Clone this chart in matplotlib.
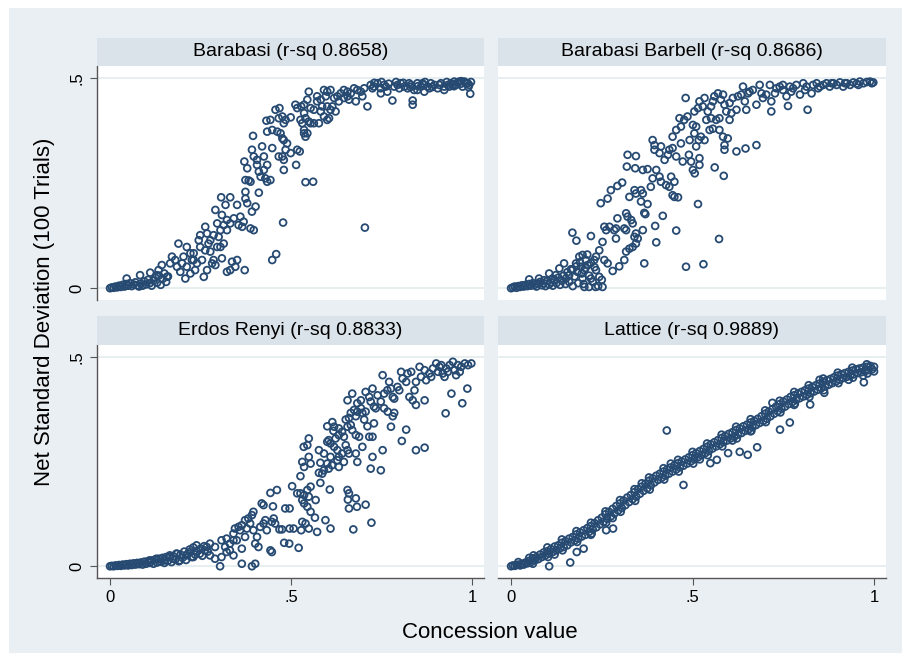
import numpy as np
import matplotlib
matplotlib.use("Agg")
import matplotlib.pyplot as plt
from matplotlib.patches import Rectangle

plt.rcParams['font.family'] = ['Liberation Sans', 'DejaVu Sans']

titles = ["Barabasi (r-sq 0.8658)", "Barabasi Barbell (r-sq 0.8686)",
          "Erdos Renyi (r-sq 0.8833)", "Lattice (r-sq 0.9889)"]
x_ticks = [0, 0.5, 1]
x_ticklabels = ["0", ".5", "1"]
y_ticks = [0, 0.5]
y_ticklabels = ["0", ".5"]
x_label = "Concession value"
y_label = "Net Standard Deviation (100 Trials)"

barabasi = [
    (0.000, 0.000), (0.005, 0.002), (0.010, 0.001), (0.015, 0.004), (0.020, 0.002), (0.025, 0.006),
    (0.030, 0.003), (0.035, 0.008), (0.040, 0.004), (0.045, 0.010), (0.050, 0.006), (0.055, 0.012),
    (0.060, 0.005), (0.065, 0.009), (0.070, 0.014), (0.075, 0.007), (0.080, 0.004), (0.085, 0.011),
    (0.090, 0.006), (0.095, 0.016), (0.100, 0.009), (0.105, 0.020), (0.110, 0.012), (0.115, 0.006),
    (0.120, 0.018), (0.125, 0.025), (0.130, 0.013), (0.135, 0.030), (0.140, 0.008), (0.145, 0.022),
    (0.150, 0.035), (0.155, 0.015), (0.160, 0.028),
    (0.046, 0.023), (0.083, 0.031), (0.111, 0.037), (0.129, 0.031), (0.143, 0.055), (0.134, 0.043),
    (0.157, 0.027),
    (0.166, 0.059), (0.171, 0.075), (0.180, 0.067), (0.185, 0.051), (0.189, 0.106), (0.194, 0.039),
    (0.199, 0.059), (0.203, 0.075), (0.208, 0.023), (0.212, 0.051), (0.222, 0.035), (0.226, 0.067),
    (0.231, 0.083), (0.235, 0.043), (0.240, 0.059), (0.245, 0.114), (0.249, 0.126), (0.254, 0.067),
    (0.259, 0.027), (0.263, 0.146), (0.263, 0.090), (0.268, 0.043), (0.272, 0.106), (0.277, 0.087),
    (0.282, 0.059), (0.286, 0.067), (0.291, 0.055), (0.291, 0.186), (0.296, 0.154), (0.300, 0.122),
    (0.305, 0.098), (0.307, 0.216), (0.309, 0.174), (0.309, 0.071), (0.314, 0.106), (0.319, 0.198),
    (0.323, 0.138), (0.323, 0.039), (0.332, 0.216), (0.332, 0.043), (0.337, 0.063), (0.346, 0.051),
    (0.351, 0.067), (0.351, 0.198), (0.355, 0.150), (0.360, 0.170), (0.365, 0.146), (0.369, 0.158),
    (0.372, 0.043), (0.374, 0.229), (0.374, 0.213), (0.379, 0.202), (0.388, 0.142), (0.392, 0.182),
    (0.397, 0.138), (0.402, 0.194), (0.411, 0.227), (0.448, 0.067), (0.459, 0.081), (0.478, 0.156),
    (0.249, 0.098), (0.268, 0.130), (0.277, 0.114), (0.286, 0.126), (0.296, 0.098), (0.305, 0.138),
    (0.314, 0.150), (0.323, 0.162), (0.332, 0.154), (0.342, 0.166), (0.222, 0.083), (0.231, 0.067),
    (0.212, 0.098),
    (0.371, 0.301), (0.379, 0.285), (0.392, 0.329), (0.397, 0.313), (0.406, 0.305), (0.406, 0.293),
    (0.411, 0.277), (0.416, 0.265), (0.425, 0.281), (0.429, 0.261), (0.434, 0.253), (0.443, 0.257),
    (0.374, 0.257), (0.383, 0.256), (0.425, 0.313), (0.420, 0.337), (0.448, 0.333), (0.434, 0.293),
    (0.388, 0.253), (0.395, 0.362),
    (0.432, 0.398), (0.443, 0.400), (0.457, 0.424), (0.468, 0.428), (0.466, 0.404), (0.476, 0.408),
    (0.480, 0.392), (0.485, 0.400), (0.499, 0.406), (0.434, 0.372), (0.448, 0.376), (0.462, 0.372),
    (0.471, 0.368), (0.476, 0.356), (0.480, 0.352), (0.489, 0.344), (0.476, 0.313), (0.485, 0.329),
    (0.480, 0.305), (0.480, 0.281), (0.466, 0.313), (0.499, 0.321), (0.514, 0.293), (0.517, 0.329),
    (0.524, 0.325), (0.540, 0.252), (0.561, 0.253), (0.536, 0.368), (0.545, 0.368), (0.540, 0.360),
    (0.536, 0.376),
    (0.512, 0.436), (0.517, 0.428), (0.528, 0.432), (0.536, 0.436), (0.549, 0.467), (0.545, 0.448),
    (0.554, 0.428), (0.563, 0.424), (0.572, 0.444), (0.582, 0.448), (0.591, 0.471), (0.600, 0.467),
    (0.586, 0.432), (0.582, 0.420), (0.591, 0.408), (0.600, 0.400), (0.605, 0.404), (0.526, 0.400),
    (0.531, 0.392), (0.549, 0.396), (0.554, 0.392), (0.563, 0.392), (0.577, 0.392), (0.540, 0.404),
    (0.536, 0.416), (0.572, 0.456), (0.596, 0.456),
    (0.609, 0.471), (0.619, 0.452), (0.628, 0.456), (0.632, 0.444), (0.623, 0.420), (0.637, 0.463),
    (0.646, 0.471), (0.656, 0.467), (0.665, 0.463), (0.674, 0.475), (0.683, 0.471), (0.693, 0.467),
    (0.702, 0.475), (0.679, 0.444), (0.697, 0.456), (0.711, 0.432), (0.646, 0.452), (0.656, 0.456),
    (0.660, 0.448), (0.600, 0.432), (0.609, 0.424), (0.614, 0.432), (0.704, 0.144),
    (0.720, 0.483), (0.729, 0.479), (0.739, 0.487), (0.748, 0.475), (0.757, 0.483), (0.766, 0.467),
    (0.780, 0.446), (0.785, 0.479), (0.794, 0.483), (0.803, 0.487), (0.813, 0.479), (0.822, 0.475),
    (0.831, 0.483), (0.836, 0.446), (0.836, 0.436), (0.840, 0.471), (0.849, 0.487), (0.859, 0.479),
    (0.868, 0.483), (0.877, 0.479), (0.886, 0.487), (0.896, 0.483), (0.905, 0.475), (0.914, 0.487),
    (0.923, 0.479), (0.933, 0.483), (0.942, 0.487), (0.951, 0.491), (0.960, 0.489), (0.970, 0.486),
    (0.979, 0.491), (0.988, 0.487), (0.997, 0.490), (0.995, 0.462), (0.923, 0.471), (0.868, 0.467),
    (0.849, 0.471), (0.748, 0.463), (0.725, 0.475), (0.762, 0.479), (0.799, 0.475), (0.826, 0.487),
    (0.863, 0.487), (0.882, 0.475), (0.910, 0.483), (0.937, 0.479), (0.956, 0.483), (0.974, 0.479),
    (0.992, 0.483), (0.983, 0.487), (0.965, 0.491), (0.946, 0.483),
    (0.730, 0.488), (0.750, 0.490), (0.770, 0.486), (0.790, 0.490), (0.810, 0.488), (0.830, 0.478),
    (0.850, 0.480), (0.870, 0.490), (0.890, 0.478), (0.930, 0.490), (0.950, 0.480), (0.970, 0.492),
    (0.990, 0.478),
]

barbell = [
    (0.000, 0.000), (0.005, 0.002), (0.010, 0.004), (0.015, 0.001), (0.020, 0.005), (0.025, 0.003),
    (0.030, 0.007), (0.035, 0.004), (0.040, 0.008), (0.045, 0.005), (0.050, 0.010), (0.055, 0.006),
    (0.060, 0.012), (0.065, 0.008), (0.070, 0.004), (0.075, 0.011), (0.080, 0.015), (0.085, 0.007),
    (0.090, 0.012), (0.095, 0.005), (0.100, 0.018), (0.105, 0.009), (0.110, 0.014), (0.115, 0.006),
    (0.120, 0.020), (0.125, 0.012), (0.130, 0.025), (0.135, 0.008), (0.140, 0.018), (0.145, 0.030),
    (0.150, 0.010), (0.155, 0.038), (0.160, 0.015), (0.165, 0.045), (0.170, 0.005), (0.175, 0.028),
    (0.180, 0.052), (0.185, 0.012), (0.190, 0.062), (0.195, 0.035), (0.200, 0.010), (0.205, 0.048),
    (0.210, 0.080), (0.215, 0.030), (0.220, 0.060), (0.225, 0.015), (0.230, 0.050), (0.240, 0.005),
    (0.250, 0.020),
    (0.169, 0.132), (0.180, 0.113), (0.220, 0.124), (0.243, 0.090), (0.252, 0.110), (0.257, 0.146),
    (0.262, 0.138), (0.252, 0.003), (0.233, 0.003), (0.215, 0.003), (0.202, 0.003), (0.197, 0.023),
    (0.220, 0.023), (0.243, 0.027), (0.188, 0.075), (0.197, 0.079), (0.206, 0.067), (0.211, 0.055),
    (0.193, 0.051), (0.179, 0.059), (0.169, 0.043), (0.160, 0.031), (0.151, 0.023), (0.146, 0.059),
    (0.133, 0.047), (0.123, 0.031), (0.114, 0.023), (0.105, 0.035), (0.091, 0.019), (0.077, 0.023),
    (0.050, 0.021), (0.229, 0.067), (0.234, 0.043), (0.183, 0.039), (0.202, 0.043), (0.234, 0.075),
    (0.257, 0.067), (0.266, 0.059), (0.280, 0.041), (0.298, 0.052), (0.312, 0.067), (0.317, 0.087),
    (0.326, 0.094), (0.335, 0.098), (0.344, 0.106), (0.349, 0.118), (0.367, 0.059), (0.400, 0.109),
    (0.397, 0.148), (0.363, 0.138), (0.344, 0.130), (0.340, 0.122), (0.317, 0.138), (0.312, 0.142),
    (0.289, 0.142), (0.284, 0.138), (0.289, 0.118), (0.293, 0.166), (0.271, 0.146), (0.247, 0.202),
    (0.266, 0.213), (0.275, 0.233), (0.293, 0.243), (0.306, 0.251), (0.317, 0.178), (0.321, 0.170),
    (0.331, 0.162), (0.335, 0.154), (0.326, 0.217), (0.340, 0.233), (0.344, 0.225), (0.358, 0.233),
    (0.363, 0.225), (0.358, 0.206), (0.376, 0.200), (0.367, 0.179), (0.370, 0.176), (0.418, 0.172),
    (0.455, 0.137), (0.482, 0.051), (0.530, 0.057), (0.573, 0.117), (0.515, 0.200), (0.321, 0.317),
    (0.344, 0.314), (0.319, 0.289), (0.342, 0.285), (0.363, 0.281), (0.376, 0.283), (0.390, 0.261),
    (0.400, 0.281), (0.409, 0.265), (0.413, 0.253), (0.385, 0.241), (0.427, 0.245), (0.436, 0.241),
    (0.450, 0.253), (0.445, 0.221), (0.450, 0.217), (0.460, 0.216), (0.441, 0.265), (0.423, 0.305),
    (0.436, 0.329), (0.432, 0.317), (0.409, 0.321), (0.395, 0.329), (0.390, 0.352), (0.395, 0.340),
    (0.413, 0.337), (0.445, 0.333), (0.455, 0.313), (0.468, 0.344), (0.473, 0.301), (0.490, 0.317),
    (0.496, 0.301), (0.501, 0.281), (0.506, 0.273), (0.519, 0.293), (0.519, 0.309), (0.510, 0.337),
    (0.517, 0.352), (0.523, 0.360), (0.533, 0.352), (0.445, 0.360), (0.455, 0.376), (0.468, 0.384),
    (0.477, 0.400), (0.464, 0.404), (0.486, 0.408), (0.501, 0.388), (0.510, 0.384), (0.505, 0.368),
    (0.492, 0.352), (0.481, 0.452), (0.505, 0.420), (0.515, 0.428), (0.519, 0.444), (0.528, 0.432),
    (0.533, 0.452), (0.542, 0.420), (0.551, 0.432), (0.556, 0.444), (0.560, 0.456), (0.570, 0.463),
    (0.578, 0.448), (0.584, 0.460), (0.588, 0.436), (0.593, 0.420), (0.574, 0.404), (0.565, 0.400),
    (0.551, 0.404), (0.538, 0.400), (0.547, 0.376), (0.556, 0.379), (0.574, 0.376), (0.584, 0.360),
    (0.597, 0.356), (0.588, 0.340), (0.588, 0.329), (0.561, 0.287), (0.586, 0.267), (0.621, 0.325),
    (0.646, 0.332), (0.676, 0.340), (0.602, 0.400), (0.607, 0.416), (0.602, 0.440), (0.611, 0.452),
    (0.621, 0.424), (0.625, 0.456), (0.634, 0.460), (0.639, 0.479), (0.644, 0.444), (0.648, 0.424),
    (0.653, 0.463), (0.657, 0.467), (0.666, 0.471), (0.676, 0.436), (0.685, 0.483), (0.690, 0.463),
    (0.694, 0.452), (0.703, 0.460), (0.713, 0.483), (0.717, 0.444), (0.717, 0.420), (0.727, 0.463),
    (0.731, 0.475), (0.740, 0.479), (0.749, 0.471), (0.759, 0.456), (0.763, 0.433), (0.768, 0.479),
    (0.777, 0.475), (0.786, 0.483), (0.796, 0.460), (0.805, 0.487), (0.814, 0.479), (0.817, 0.424),
    (0.828, 0.463), (0.832, 0.483), (0.842, 0.487), (0.851, 0.479), (0.860, 0.483), (0.869, 0.487),
    (0.878, 0.479), (0.888, 0.487), (0.897, 0.483), (0.906, 0.489), (0.915, 0.479), (0.925, 0.487),
    (0.934, 0.483), (0.943, 0.489), (0.952, 0.486), (0.961, 0.491), (0.971, 0.487), (0.980, 0.490),
    (0.989, 0.491), (0.998, 0.489), (0.749, 0.483), (0.772, 0.467), (0.810, 0.471), (0.846, 0.475),
    (0.883, 0.487), (0.920, 0.487), (0.957, 0.483), (0.994, 0.487),
]

erdos = [
    (0.000, 0.000), (0.005, 0.001), (0.010, 0.000), (0.015, 0.002), (0.020, 0.001), (0.025, 0.003),
    (0.030, 0.001), (0.035, 0.004), (0.040, 0.002), (0.045, 0.005), (0.050, 0.002), (0.055, 0.006),
    (0.060, 0.003), (0.065, 0.007), (0.070, 0.004), (0.075, 0.008), (0.080, 0.005), (0.085, 0.009),
    (0.090, 0.004), (0.095, 0.011), (0.100, 0.006), (0.105, 0.012), (0.110, 0.008), (0.115, 0.014),
    (0.120, 0.006), (0.125, 0.016), (0.130, 0.009), (0.135, 0.018), (0.140, 0.011), (0.145, 0.020),
    (0.150, 0.008), (0.155, 0.022), (0.160, 0.013), (0.165, 0.026), (0.170, 0.010), (0.175, 0.024),
    (0.180, 0.016), (0.185, 0.030), (0.190, 0.012), (0.195, 0.028), (0.200, 0.020), (0.205, 0.035),
    (0.210, 0.015), (0.215, 0.030), (0.220, 0.040), (0.225, 0.022), (0.230, 0.045), (0.235, 0.028),
    (0.240, 0.036), (0.250, 0.042), (0.255, 0.025), (0.260, 0.048), (0.270, 0.035),
    (0.304, 0.000), (0.364, 0.006), (0.392, 0.000), (0.401, 0.006), (0.341, 0.026), (0.322, 0.034),
    (0.308, 0.022), (0.290, 0.018), (0.276, 0.026), (0.267, 0.046), (0.262, 0.038), (0.248, 0.030),
    (0.239, 0.050), (0.230, 0.022), (0.220, 0.034), (0.211, 0.026), (0.193, 0.014), (0.183, 0.030),
    (0.174, 0.018), (0.165, 0.022), (0.151, 0.014), (0.128, 0.018), (0.109, 0.014), (0.276, 0.054),
    (0.290, 0.046), (0.308, 0.062), (0.318, 0.046), (0.322, 0.066), (0.331, 0.054), (0.341, 0.078),
    (0.350, 0.062), (0.359, 0.086), (0.364, 0.042), (0.373, 0.070), (0.378, 0.090), (0.387, 0.102),
    (0.396, 0.086), (0.401, 0.054), (0.406, 0.070), (0.410, 0.046), (0.415, 0.094), (0.424, 0.102),
    (0.429, 0.110), (0.433, 0.086), (0.443, 0.038), (0.447, 0.034), (0.447, 0.106), (0.452, 0.114),
    (0.456, 0.102), (0.424, 0.146), (0.419, 0.150), (0.396, 0.130), (0.392, 0.122), (0.382, 0.114),
    (0.373, 0.110), (0.364, 0.098), (0.355, 0.094), (0.345, 0.090), (0.341, 0.062), (0.331, 0.038),
    (0.443, 0.175), (0.461, 0.182), (0.450, 0.143), (0.468, 0.088), (0.481, 0.056), (0.495, 0.054),
    (0.521, 0.044), (0.496, 0.090), (0.507, 0.090), (0.528, 0.086), (0.540, 0.102), (0.549, 0.090),
    (0.572, 0.082), (0.609, 0.090), (0.595, 0.110), (0.566, 0.116), (0.531, 0.106), (0.554, 0.130),
    (0.545, 0.142), (0.536, 0.150), (0.531, 0.158), (0.517, 0.174), (0.526, 0.174), (0.536, 0.170),
    (0.549, 0.166), (0.545, 0.182), (0.554, 0.190), (0.568, 0.158), (0.503, 0.191), (0.484, 0.138),
    (0.496, 0.138), (0.475, 0.088), (0.581, 0.199), (0.607, 0.183), (0.526, 0.215), (0.536, 0.237),
    (0.531, 0.249), (0.549, 0.261), (0.554, 0.245), (0.577, 0.223), (0.586, 0.221), (0.591, 0.229),
    (0.604, 0.233), (0.600, 0.245), (0.609, 0.261), (0.613, 0.241), (0.628, 0.253), (0.581, 0.247),
    (0.591, 0.269), (0.535, 0.285), (0.549, 0.305), (0.545, 0.289), (0.577, 0.277), (0.600, 0.297),
    (0.604, 0.301), (0.609, 0.293), (0.619, 0.285), (0.623, 0.305), (0.632, 0.313), (0.628, 0.277),
    (0.632, 0.261), (0.641, 0.269), (0.651, 0.289), (0.656, 0.277), (0.660, 0.269), (0.646, 0.249),
    (0.632, 0.237), (0.656, 0.182), (0.660, 0.174), (0.657, 0.159), (0.679, 0.162), (0.660, 0.138),
    (0.682, 0.142), (0.706, 0.147), (0.722, 0.104), (0.672, 0.088), (0.683, 0.249), (0.679, 0.269),
    (0.697, 0.285), (0.688, 0.309), (0.679, 0.313), (0.669, 0.325), (0.665, 0.337), (0.656, 0.333),
    (0.646, 0.309), (0.641, 0.321), (0.632, 0.329), (0.619, 0.333), (0.617, 0.323), (0.600, 0.334),
    (0.614, 0.344), (0.651, 0.350), (0.660, 0.354), (0.665, 0.366), (0.674, 0.373), (0.679, 0.358),
    (0.683, 0.369), (0.693, 0.377), (0.697, 0.366), (0.702, 0.350), (0.706, 0.369), (0.656, 0.396),
    (0.669, 0.412), (0.683, 0.389), (0.693, 0.396), (0.706, 0.416), (0.716, 0.404), (0.720, 0.393),
    (0.725, 0.424), (0.729, 0.381), (0.734, 0.377), (0.711, 0.334), (0.716, 0.309), (0.725, 0.309),
    (0.729, 0.341), (0.725, 0.261), (0.753, 0.277), (0.720, 0.233), (0.748, 0.229), (0.739, 0.408),
    (0.748, 0.393), (0.757, 0.412), (0.766, 0.420), (0.753, 0.456), (0.771, 0.440), (0.776, 0.424),
    (0.781, 0.404), (0.785, 0.400), (0.781, 0.358), (0.776, 0.333), (0.785, 0.366), (0.767, 0.369),
    (0.757, 0.377), (0.794, 0.428), (0.799, 0.420), (0.808, 0.448), (0.818, 0.440), (0.822, 0.460),
    (0.827, 0.404), (0.836, 0.396), (0.845, 0.385), (0.841, 0.420), (0.845, 0.440), (0.855, 0.476),
    (0.859, 0.452), (0.869, 0.468), (0.873, 0.444), (0.882, 0.460), (0.892, 0.472), (0.901, 0.484),
    (0.910, 0.476), (0.919, 0.460), (0.929, 0.472), (0.938, 0.480), (0.947, 0.488), (0.952, 0.468),
    (0.961, 0.480), (0.970, 0.476), (0.980, 0.484), (0.989, 0.480), (0.998, 0.484), (0.987, 0.424),
    (0.973, 0.389), (0.943, 0.412), (0.927, 0.365), (0.869, 0.396), (0.845, 0.277), (0.869, 0.283),
    (0.806, 0.299), (0.818, 0.326), (0.887, 0.452), (0.906, 0.464), (0.924, 0.452), (0.956, 0.456),
    (0.804, 0.464), (0.832, 0.464), (0.915, 0.480), (0.933, 0.464), (0.966, 0.464),
]

lattice = [
    (0.000, 0.000), (0.005, 0.002), (0.010, 0.001), (0.015, 0.003), (0.020, 0.004), (0.025, 0.002),
    (0.030, 0.006), (0.035, 0.004), (0.040, 0.009), (0.045, 0.007), (0.050, 0.013), (0.055, 0.010),
    (0.060, 0.019), (0.065, 0.014), (0.070, 0.022), (0.075, 0.017), (0.080, 0.028), (0.085, 0.022),
    (0.090, 0.033), (0.095, 0.026), (0.100, 0.036), (0.105, 0.030), (0.110, 0.041), (0.115, 0.034),
    (0.120, 0.047), (0.125, 0.038), (0.130, 0.050), (0.135, 0.043), (0.140, 0.056), (0.145, 0.046),
    (0.150, 0.060), (0.155, 0.050), (0.160, 0.066), (0.165, 0.057), (0.170, 0.070), (0.175, 0.061),
    (0.180, 0.076), (0.185, 0.066), (0.190, 0.081), (0.195, 0.071), (0.200, 0.086), (0.205, 0.075),
    (0.210, 0.091), (0.215, 0.082), (0.220, 0.096), (0.225, 0.088), (0.230, 0.103), (0.235, 0.093),
    (0.240, 0.110), (0.245, 0.100), (0.250, 0.116), (0.255, 0.106), (0.260, 0.124), (0.265, 0.113),
    (0.270, 0.130), (0.275, 0.119), (0.280, 0.137), (0.285, 0.126), (0.290, 0.144), (0.295, 0.133),
    (0.300, 0.150), (0.305, 0.139), (0.310, 0.157), (0.315, 0.146), (0.320, 0.164), (0.325, 0.153),
    (0.330, 0.170), (0.335, 0.160), (0.340, 0.177), (0.345, 0.166), (0.350, 0.184), (0.355, 0.173),
    (0.360, 0.190), (0.365, 0.180), (0.370, 0.197), (0.375, 0.186), (0.380, 0.204), (0.385, 0.193),
    (0.390, 0.210), (0.395, 0.200), (0.400, 0.216), (0.405, 0.206), (0.410, 0.221), (0.415, 0.211),
    (0.420, 0.226), (0.425, 0.216), (0.430, 0.231), (0.435, 0.221), (0.440, 0.236), (0.445, 0.226),
    (0.450, 0.241), (0.455, 0.231), (0.460, 0.246), (0.465, 0.236), (0.470, 0.250), (0.475, 0.240),
    (0.480, 0.255), (0.485, 0.245), (0.490, 0.260), (0.495, 0.250), (0.500, 0.265), (0.505, 0.255),
    (0.510, 0.270), (0.515, 0.260), (0.520, 0.275), (0.525, 0.265), (0.530, 0.280), (0.535, 0.270),
    (0.540, 0.285), (0.545, 0.275), (0.550, 0.291), (0.555, 0.281), (0.560, 0.296), (0.565, 0.286),
    (0.570, 0.301), (0.575, 0.291), (0.580, 0.306), (0.585, 0.296), (0.590, 0.311), (0.595, 0.300),
    (0.600, 0.316), (0.605, 0.305), (0.610, 0.320), (0.615, 0.309), (0.620, 0.325), (0.625, 0.314),
    (0.630, 0.329), (0.635, 0.318), (0.640, 0.334), (0.645, 0.323), (0.650, 0.338), (0.655, 0.327),
    (0.660, 0.343), (0.665, 0.332), (0.670, 0.347), (0.675, 0.337), (0.680, 0.352), (0.685, 0.342),
    (0.690, 0.358), (0.695, 0.347), (0.700, 0.364), (0.705, 0.352), (0.710, 0.369), (0.715, 0.358),
    (0.720, 0.375), (0.725, 0.364), (0.730, 0.381), (0.735, 0.370), (0.740, 0.387), (0.745, 0.376),
    (0.750, 0.393), (0.755, 0.381), (0.760, 0.398), (0.765, 0.387), (0.770, 0.404), (0.775, 0.392),
    (0.780, 0.408), (0.785, 0.397), (0.790, 0.412), (0.795, 0.401), (0.800, 0.416), (0.805, 0.405),
    (0.810, 0.420), (0.815, 0.409), (0.820, 0.424), (0.825, 0.413), (0.830, 0.428), (0.835, 0.417),
    (0.840, 0.432), (0.845, 0.421), (0.850, 0.436), (0.855, 0.425), (0.860, 0.440), (0.865, 0.429),
    (0.870, 0.444), (0.875, 0.433), (0.880, 0.447), (0.885, 0.437), (0.890, 0.451), (0.895, 0.441),
    (0.900, 0.455), (0.905, 0.445), (0.910, 0.458), (0.915, 0.449), (0.920, 0.461), (0.925, 0.452),
    (0.930, 0.464), (0.935, 0.455), (0.940, 0.467), (0.945, 0.458), (0.950, 0.470), (0.955, 0.461),
    (0.960, 0.472), (0.965, 0.463), (0.970, 0.474), (0.975, 0.466), (0.980, 0.476), (0.985, 0.468),
    (0.990, 0.478), (0.995, 0.470), (1.000, 0.476), (1.000, 0.465),
    (0.429, 0.324), (0.163, 0.009), (0.105, 0.000), (0.200, 0.042), (0.181, 0.034), (0.475, 0.194),
    (0.598, 0.270), (0.630, 0.273), (0.652, 0.266), (0.678, 0.284), (0.768, 0.343), (0.741, 0.326),
    (0.972, 0.439), (0.863, 0.414), (0.824, 0.386), (0.549, 0.246), (0.567, 0.254), (0.281, 0.090),
    (0.262, 0.086), (0.050, 0.020), (0.120, 0.028), (0.220, 0.075), (0.280, 0.115), (0.360, 0.198),
    (0.440, 0.245), (0.520, 0.255), (0.610, 0.300), (0.660, 0.322), (0.720, 0.390), (0.780, 0.385),
    (0.850, 0.445), (0.930, 0.445), (0.970, 0.455),
    (0.020, 0.010), (0.060, 0.006), (0.062, 0.026), (0.100, 0.045), (0.102, 0.022), (0.140, 0.064),
    (0.142, 0.038), (0.180, 0.084), (0.182, 0.058), (0.220, 0.104), (0.222, 0.078), (0.260, 0.131),
    (0.262, 0.104), (0.300, 0.158), (0.302, 0.130), (0.340, 0.184), (0.342, 0.156), (0.380, 0.212),
    (0.382, 0.183), (0.420, 0.234), (0.422, 0.207), (0.460, 0.254), (0.462, 0.226), (0.500, 0.273),
    (0.502, 0.245), (0.540, 0.293), (0.542, 0.265), (0.580, 0.314), (0.582, 0.286), (0.620, 0.333),
    (0.622, 0.305), (0.660, 0.351), (0.662, 0.323), (0.700, 0.372), (0.702, 0.344), (0.740, 0.395),
    (0.742, 0.367), (0.780, 0.416), (0.782, 0.388), (0.820, 0.432), (0.822, 0.404), (0.860, 0.448),
    (0.862, 0.420), (0.900, 0.462), (0.902, 0.437), (0.940, 0.474), (0.942, 0.450), (0.980, 0.482),
    (0.982, 0.460),
]

panels = [barabasi, barbell, erdos, lattice]

# ---- styling ----
W, H = 902, 653
fig = plt.figure(figsize=(W / 100, H / 100), dpi=100, facecolor="white")
bg = "#eaeff3"
strip = "#dbe3ea"
grid_c = "#e3ebee"
mark_c = "#264a72"
axis_c = "#555555"

fig.patches.append(Rectangle((9 / W, 0), 1 - 9 / W, 1 - 8 / H, transform=fig.transFigure,
                             facecolor=bg, edgecolor="none", zorder=-10))

def fx(px):
    return px / W

def fy(py):
    return 1 - py / H

col_x = [(97, 484), (498, 886)]
row_y = [(38, 66, 300), (316, 345, 578)]

xlim = (-0.036, 1.033)
ylim = (-0.028, 0.528)

for i, pts in enumerate(panels):
    r, c = divmod(i, 2)
    x0, x1 = col_x[c]
    ht, pt, pb = row_y[r]
    ax = fig.add_axes([fx(x0), fy(pb), fx(x1) - fx(x0), fy(pt) - fy(pb)])
    ax.set_facecolor("white")
    arr = np.array(pts)
    ax.scatter(arr[:, 0], arr[:, 1], s=24, facecolors="none", edgecolors=mark_c,
               linewidths=1.3, zorder=3)
    ax.set_xlim(*xlim)
    ax.set_ylim(*ylim)
    for yv in y_ticks:
        ax.axhline(yv, color=grid_c, lw=1.2, zorder=1)
    for s in ["top", "right"]:
        ax.spines[s].set_visible(False)
    ax.spines["left"].set_visible(c == 0)
    ax.spines["bottom"].set_visible(r == 1)
    ax.spines["left"].set_color(axis_c)
    ax.spines["bottom"].set_color(axis_c)
    ax.spines["left"].set_linewidth(1.0)
    ax.spines["bottom"].set_linewidth(1.0)
    if c == 0:
        ax.set_yticks(y_ticks)
        ax.set_yticklabels(y_ticklabels, rotation=90, va="center", fontsize=12)
        ax.tick_params(axis="y", length=5, color=axis_c, pad=4, direction="out")
    else:
        ax.set_yticks([])
    if r == 1:
        ax.set_xticks(x_ticks)
        ax.set_xticklabels(x_ticklabels, fontsize=12)
        ax.tick_params(axis="x", length=5, color=axis_c, pad=4, direction="out")
    else:
        ax.set_xticks([])
    # header strip
    hax = fig.add_axes([fx(x0), fy(pt), fx(x1) - fx(x0), fy(ht) - fy(pt)])
    hax.set_facecolor(strip)
    hax.set_xticks([])
    hax.set_yticks([])
    for s in hax.spines.values():
        s.set_visible(False)
    hax.text(0.5, 0.5, titles[i], ha="center", va="center", fontsize=14, transform=hax.transAxes)

fig.text(fx(490), fy(632), x_label, ha="center", va="center", fontsize=16)
fig.text(fx(45), fy(312), y_label, ha="center", va="center", fontsize=16, rotation=90)

fig.savefig("out.png", dpi=100, facecolor=fig.get_facecolor())
